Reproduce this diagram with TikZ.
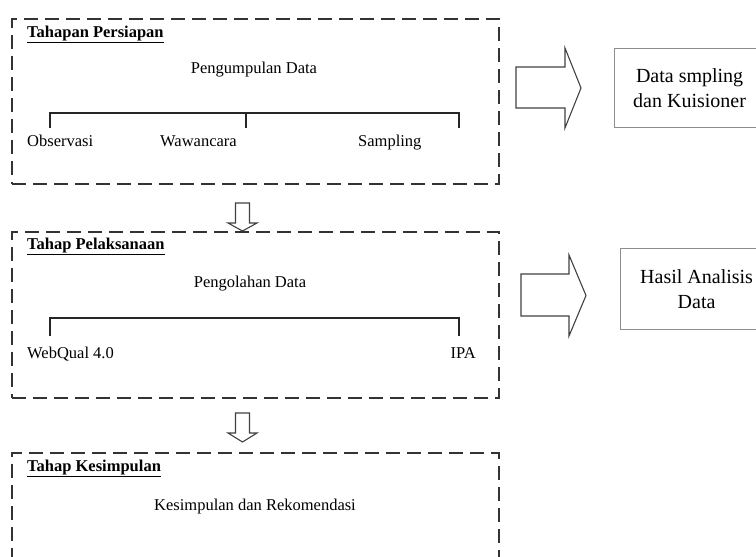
\documentclass[tikz,border=0pt]{standalone}
\usepackage{fontspec}
\setmainfont{Liberation Serif}
\usetikzlibrary{positioning}

\begin{document}
\begin{tikzpicture}[
  x=1pt, y=-1pt,
  phase/.style={rectangle, draw=black!80, line width=1.5pt,
    dash pattern=on 14pt off 7pt, minimum width=487pt, anchor=north west},
  title/.style={anchor=base west, inner sep=0pt,
    font=\fontsize{16.5}{20}\selectfont\bfseries},
  txt/.style={anchor=base, inner sep=0pt, font=\fontsize{16.5}{20}\selectfont},
  outbox/.style={rectangle, draw=black!45, line width=1.2pt, anchor=north west,
    align=center, font=\fontsize{20}{25}\selectfont},
  blockarr/.style={draw=black!75, line width=1.1pt, line join=miter},
  bracket/.style={draw=black!85, line width=1.2pt}
]
\useasboundingbox (0,0) rectangle (756,557);
\clip (0,0) rectangle (756,557);

% tahap-tahap
\node[phase, minimum height=165pt] (prep) at (11,18) {};
\node[phase, minimum height=166pt] (exec) at (11,231) {};
\node[phase, minimum height=170pt] (concl) at (11,452) {};

\node[title] (prepT) at (27,37) {\underline{Tahapan Persiapan}};
\node[title] (execT) at (27,249) {\underline{Tahap Pelaksanaan}};
\node[title] (conclT) at (27,471) {\underline{Tahap Kesimpulan}};

\node[txt] (collect) at (254,73) {Pengumpulan Data};
\node[txt] (process) at (250,287) {Pengolahan Data};
\node[txt] (recom) at (255,510) {Kesimpulan dan Rekomendasi};

% pengumpulan data
\coordinate (brAl) at (50,128);
\coordinate (brAm) at (246,128);
\coordinate (brAr) at (459,128);
\draw[bracket] (brAl) |- (brAr |- 0,113) -- (brAr);
\draw[bracket] (brAm) -- (brAm |- 0,113);
\node[txt, anchor=base west] (obs) at (27,146) {Observasi};
\node[txt, anchor=base west] (wwc) at (160,146) {Wawancara};
\node[txt, anchor=base west] (smp) at (358,146) {Sampling};

% pengolahan data
\coordinate (brBl) at (50,336);
\coordinate (brBr) at (459,336);
\draw[bracket] (brBl) |- (brBr |- 0,318) -- (brBr);
\node[txt, anchor=base west] (wq) at (27,358) {WebQual 4.0};
\node[txt, anchor=base east] (ipa) at (476,358) {IPA};

% panah ke bawah
\coordinate (downA) at (235.5,203);
\coordinate (downB) at (235.5,413);
\draw[blockarr] (downA) -- ++(14,0) -- ++(0,20) -- ++(7.5,0) -- ++(-14.5,8)
  -- ++(-14.5,-8) -- ++(7.5,0) -- cycle;
\draw[blockarr] (downB) -- ++(14,0) -- ++(0,20) -- ++(7.5,0) -- ++(-14.5,9)
  -- ++(-14.5,-9) -- ++(7.5,0) -- cycle;

% panah ke kanan
\coordinate (rightA) at (516,67);
\coordinate (rightB) at (521,274);
\draw[blockarr] (rightA) -- ++(49,0) -- ++(0,-19) -- ++(16,40) -- ++(-16,40)
  -- ++(0,-20) -- ++(-49,0) -- cycle;
\draw[blockarr] (rightB) -- ++(48,0) -- ++(0,-19) -- ++(17,40.5) -- ++(-17,40.5)
  -- ++(0,-20) -- ++(-48,0) -- cycle;

% hasil (terpotong di tepi kanan)
\node[outbox, minimum width=150pt, minimum height=79pt] (outA) at (614,48)
  {Data smpling\\dan Kuisioner};
\node[outbox, minimum width=152pt, minimum height=81pt] (outB) at (620,248)
  {Hasil Analisis\\Data};
\end{tikzpicture}
\end{document}
